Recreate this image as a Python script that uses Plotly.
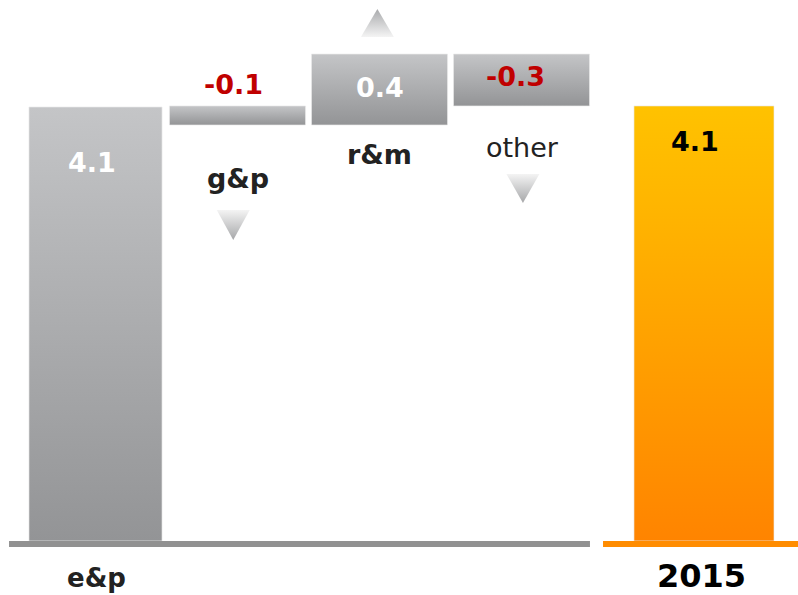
import plotly.graph_objects as go

# ---- data ----
categories = ["e&p", "g&p", "r&m", "other", "2015"]
bar_base = [0.0, 3.93, 3.93, 4.11, 0.0]      # bottom of each floating bar
bar_top = [4.10, 4.11, 4.60, 4.60, 4.11]     # top of each floating bar
value_labels = ["4.1", "-0.1", "0.4", "-0.3", "4.1"]
directions = [None, "down", "up", "down", None]

# ---- layout constants ----
x_pos = [0, 1, 2, 3, 4.285]
bar_width = [0.937, 0.958, 0.958, 0.958, 0.986]
GRAY = [[0, "#939496"], [1, "#c4c5c7"]]
ORANGE = [[0, "#ff8400"], [0.75, "#ffb400"], [1, "#ffc200"]]
bar_scales = [GRAY, GRAY, GRAY, GRAY, ORANGE]

fig = go.Figure()

for i, cat in enumerate(categories):
    xc, hw = x_pos[i], bar_width[i] / 2
    b, t = bar_base[i], bar_top[i]
    fig.add_trace(go.Scatter(
        x=[xc - hw, xc + hw, xc + hw, xc - hw, xc - hw],
        y=[b, b, t, t, b],
        mode="lines", fill="toself",
        line=dict(width=0.8, color="rgba(235,235,235,0.8)"),
        fillgradient=dict(type="vertical", colorscale=bar_scales[i]),
        hoverinfo="skip", showlegend=False,
    ))

# direction triangles
tri_dx = [0, -0.03, -0.015, 0.01, 0]
tri_y = {1: (3.127, 2.844), 2: (4.761, 5.026), 3: (3.467, 3.193)}
for i, d in enumerate(directions):
    if d is None:
        continue
    xc = x_pos[i] + tri_dx[i]
    hw = 0.116
    base_y, tip_y = tri_y[i]
    if d == "down":
        scale = [[0, "#a6a7a9"], [1, "#f4f4f4"]]
    else:
        scale = [[0, "#f4f4f4"], [1, "#a9aaac"]]
    fig.add_trace(go.Scatter(
        x=[xc - hw, xc + hw, xc, xc - hw],
        y=[base_y, base_y, tip_y, base_y],
        mode="lines", fill="toself", line=dict(width=0),
        fillgradient=dict(type="vertical", colorscale=scale),
        hoverinfo="skip", showlegend=False,
    ))

FONT = "DejaVu Sans"
# value labels
val_y = [3.571, 4.308, 4.280, 4.384, 3.770]
val_dx = [-0.025, -0.03, 0.0, -0.045, -0.06]
val_size = [27, 27, 27, 27, 27]
val_color = ["white", "#c00000", "white", "#c00000", "black"]
for i, lab in enumerate(value_labels):
    fig.add_annotation(x=x_pos[i] + val_dx[i], y=val_y[i], text=lab, showarrow=False,
                       font=dict(family=FONT, size=val_size[i], color=val_color[i], weight="bold"))

# category labels
cat_y = [-0.35, 3.429, 3.647, 3.713, -0.33]
cat_dx = [0.01, 0.0, 0.0, 0.01, -0.015]
cat_size = [26, 27, 27, 27, 32]
cat_weight = ["bold", "bold", "bold", "normal", "bold"]
cat_color = ["#222222", "#222222", "#222222", "#222222", "#000000"]
for i, c in enumerate(categories):
    fig.add_annotation(x=x_pos[i] + cat_dx[i], y=cat_y[i], text=c, showarrow=False,
                       font=dict(family=FONT, size=cat_size[i], color=cat_color[i],
                                 weight=cat_weight[i]))

# baselines
fig.add_shape(type="line", x0=-0.609, x1=3.482, y0=-0.028, y1=-0.028,
              line=dict(color="#919191", width=6), layer="above")
fig.add_shape(type="line", x0=3.574, x1=4.95, y0=-0.028, y1=-0.028,
              line=dict(color="#ff8c00", width=6), layer="above")

fig.update_layout(
    width=798, height=595,
    margin=dict(l=0, r=0, t=0, b=0),
    paper_bgcolor="white", plot_bgcolor="white",
    xaxis=dict(range=[-0.6725, 4.947], visible=False, fixedrange=True),
    yaxis=dict(range=[-0.511, 5.111], visible=False, fixedrange=True),
    showlegend=False,
)

fig.write_html("out.html")
